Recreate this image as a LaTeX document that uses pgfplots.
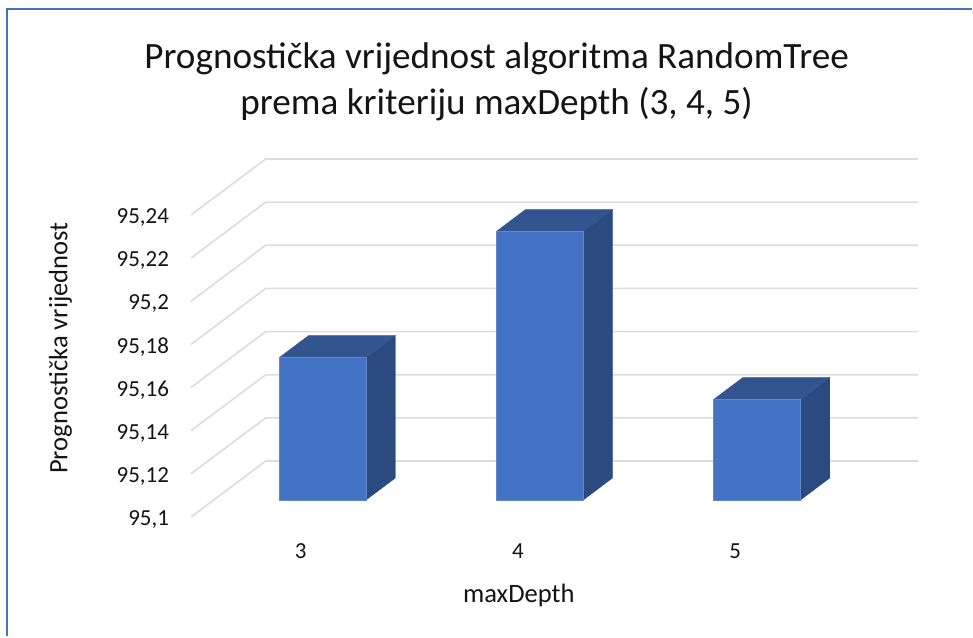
\documentclass[border=0pt]{standalone}
\usepackage{fontspec}
\setmainfont{Carlito}
\usepackage{pgfplots}
\pgfplotsset{compat=1.18}
\definecolor{barfront}{HTML}{4472C4}
\definecolor{barside}{HTML}{2B4A80}
\definecolor{bartop}{HTML}{33558F}
\definecolor{gridc}{HTML}{DCDCDC}
\definecolor{framec}{HTML}{4472C4}
\definecolor{txt}{HTML}{141414}
\begin{document}
\begin{tikzpicture}[x=1pt,y=1pt]
\path (0,0) rectangle (973,637);
\draw[framec,line width=2.4pt] (7,0) -- (7,628) -- (973,628);
\begin{axis}[
  at={(191.2pt,136.4pt)},anchor=south west,
  scale only axis,width=653.8pt,height=302.4pt,
  xmin=2.394,xmax=5.4,ymin=95.1,ymax=95.24,
  clip=false,
  axis line style={draw=none},
  major tick length=0pt,
  xtick={3,4,5},
  ytick={95.1,95.12,95.14,95.16,95.18,95.2,95.22,95.24},
  /pgf/number format/.cd,assume math mode=true,use comma,fixed,precision=2,1000 sep={},
  /pgfplots/.cd,
  every tick label/.append style={font=\fontsize{23}{26}\selectfont,text=txt},
  yticklabel style={anchor=east,xshift=-18.5pt,yshift=-19.5pt},
  xticklabel style={anchor=center,xshift=-22pt,yshift=-51.5pt},
  xlabel={maxDepth},
  ylabel={Prognostička vrijednost},
  label style={font=\fontsize{26.6}{30}\selectfont,text=txt},
  xlabel style={at={(axis description cs:0.502,-0.3175)},anchor=center},
  ylabel style={at={(axis description cs:-0.2,0.503)},anchor=center,rotate=0},
  title={Prognostička vrijednost algoritma RandomTree\\prema kriteriju maxDepth (3, 4, 5)},
  title style={at={(axis description cs:0.468,1.365)},anchor=center,align=center,
    font=\fontsize{37.2}{46}\selectfont,text=txt},
]
% gridlines on the side and back walls
\addplot[gridc,line width=1.6pt] coordinates {(2.394,95.09213)(2.738,95.11806)(5.7425,95.11806)};
\addplot[gridc,line width=1.6pt] coordinates {(2.394,95.11213)(2.738,95.13806)(5.7425,95.13806)};
\addplot[gridc,line width=1.6pt] coordinates {(2.394,95.13213)(2.738,95.15806)(5.7425,95.15806)};
\addplot[gridc,line width=1.6pt] coordinates {(2.394,95.15213)(2.738,95.17806)(5.7425,95.17806)};
\addplot[gridc,line width=1.6pt] coordinates {(2.394,95.17213)(2.738,95.19806)(5.7425,95.19806)};
\addplot[gridc,line width=1.6pt] coordinates {(2.394,95.19213)(2.738,95.21806)(5.7425,95.21806)};
\addplot[gridc,line width=1.6pt] coordinates {(2.394,95.21213)(2.738,95.23806)(5.7425,95.23806)};
\addplot[gridc,line width=1.6pt] coordinates {(2.394,95.23213)(2.738,95.25806)(5.7425,95.25806)};
% bar sides
\addplot[fill=barside,draw=barside,line width=0.3pt] coordinates {(3.2,95.1)(3.3347,95.110185)(3.3347,95.176185)(3.2,95.166)} -- cycle;
\addplot[fill=barside,draw=barside,line width=0.3pt] coordinates {(4.2,95.1)(4.3347,95.110185)(4.3347,95.234685)(4.2,95.2245)} -- cycle;
\addplot[fill=barside,draw=barside,line width=0.3pt] coordinates {(5.2,95.1)(5.3347,95.110185)(5.3347,95.156785)(5.2,95.1466)} -- cycle;
% bar tops
\addplot[fill=bartop,draw=bartop,line width=0.3pt] coordinates {(2.8,95.166)(2.9347,95.176185)(3.3347,95.176185)(3.2,95.166)} -- cycle;
\addplot[fill=bartop,draw=bartop,line width=0.3pt] coordinates {(3.8,95.2245)(3.9347,95.234685)(4.3347,95.234685)(4.2,95.2245)} -- cycle;
\addplot[fill=bartop,draw=bartop,line width=0.3pt] coordinates {(4.8,95.1466)(4.9347,95.156785)(5.3347,95.156785)(5.2,95.1466)} -- cycle;
% bar fronts
\addplot[ybar,bar width=87pt,fill=barfront,draw=barfront!85!white,line width=0.5pt] coordinates {(3,95.166)(4,95.2245)(5,95.1466)};
\end{axis}
\end{tikzpicture}
\end{document}
